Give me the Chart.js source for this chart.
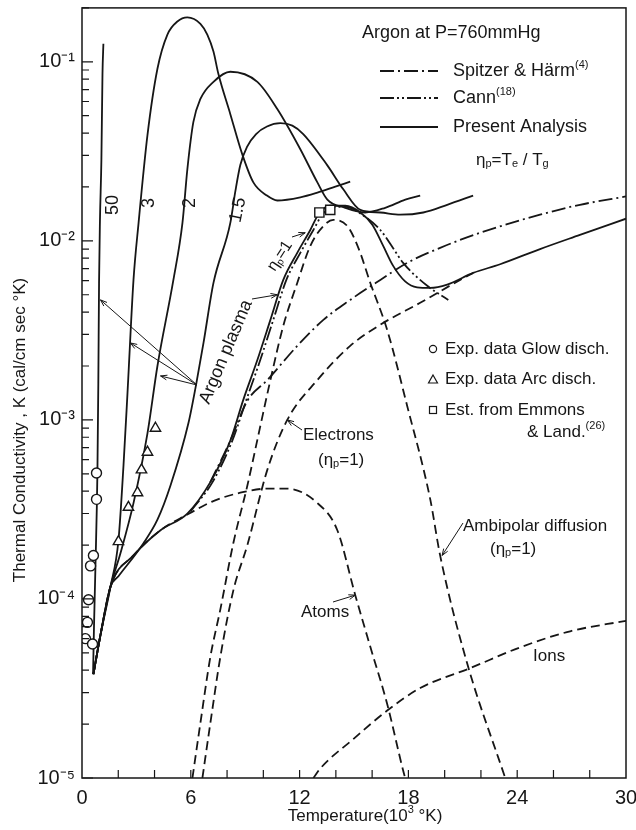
<!DOCTYPE html>
<html>
<head>
<meta charset="utf-8">
<script src="https://cdn.jsdelivr.net/npm/chart.js"></script>
<style>
  html, body { margin: 0; padding: 0; background: #fff; }
  canvas { display: block; }
</style>
</head>
<body>
<canvas id="chart" width="636" height="830"></canvas>
<script>
// axis ticks
const xTickValues = [0, 6, 12, 18, 24, 30];
const xTickLabels = ['0', '6', '12', '18', '24', '30'];
const yTickValues = [1e-5, 1e-4, 1e-3, 1e-2, 1e-1];
const yTickLabels = ['10⁻⁵', '10⁻⁴', '10⁻³', '10⁻²', '10⁻¹'];

// temperature in 10^3 K, conductivity in cal/cm sec K
// present analysis, eta_p = 50, 3, 2, 1.5, 1
const eta50T = [0.61, 0.66, 0.74, 0.85, 0.90, 0.94, 0.99, 1.07, 1.13, 1.18];
const eta50K = [3.8e-5, 6.9e-5, 1.5e-4, 5.1e-4, 1.6e-3, 5.8e-3, 1.3e-2, 2.85e-2, 8.6e-2, 0.126];

const eta3T = [0.63, 1.02, 1.57, 2.01, 2.29, 2.51, 2.84, 3.12, 3.61, 4.16, 4.71, 5.26, 5.81, 6.53, 6.91, 7.25, 7.52, 8.18, 8.84, 9.45, 10.2, 10.77, 12.04, 12.98, 13.97, 14.79];
const eta3K = [3.8e-5, 6.3e-5, 1.17e-4, 2.12e-4, 5.6e-4, 1.42e-3, 6.05e-3, 0.0126, 0.0389, 0.0914, 0.142, 0.168, 0.177, 0.163, 0.142, 0.114, 0.0857, 0.051, 0.0304, 0.0212, 0.0179, 0.0168, 0.0175, 0.0186, 0.0201, 0.0214];

const eta2T = [0.63, 1.02, 1.57, 2.12, 2.84, 3.61, 4.16, 5.04, 5.54, 5.81, 6.14, 6.53, 7.25, 8.18, 9.67, 10.77, 12.04, 12.98, 13.53, 14.52, 15.62, 16.72, 17.83, 18.65];
const eta2K = [3.8e-5, 6.3e-5, 1.17e-4, 1.8e-4, 3.43e-4, 8.4e-4, 2.0e-3, 6.05e-3, 0.0126, 0.0251, 0.046, 0.062, 0.0773, 0.088, 0.0773, 0.0545, 0.0325, 0.0212, 0.017, 0.0153, 0.0144, 0.0153, 0.017, 0.0179];

const eta15T = [0.63, 1.02, 1.57, 2.01, 3.39, 4.16, 4.88, 5.87, 6.31, 6.70, 7.25, 8.18, 8.46, 8.73, 9.1, 9.6, 10.2, 10.94, 11.6, 12.2, 13.53, 14.41, 15.35, 16.45, 17.55, 18.82, 20.14, 21.57];
const eta15K = [3.8e-5, 6.3e-5, 1.17e-4, 1.34e-4, 2.05e-4, 2.77e-4, 4.3e-4, 9.6e-4, 1.61e-3, 2.69e-3, 5.82e-3, 0.0126, 0.019, 0.0265, 0.0335, 0.0395, 0.0435, 0.0454, 0.0440, 0.0395, 0.0264, 0.0194, 0.0149, 0.0144, 0.014, 0.0144, 0.0159, 0.0179];

const eta1T = [0.63, 1.02, 1.57, 2.84, 4.33, 5.81, 7.07, 8.18, 8.89, 9.67, 10.39, 11.1, 11.87, 12.59, 13.03, 13.69, 14.52, 15.35, 16.01, 16.61, 17.16, 17.82, 18.48, 19.2, 20.14, 21.57, 23.06, 25.26, 27.46, 30];
const eta1K = [3.8e-5, 6.3e-5, 1.17e-4, 1.75e-4, 2.42e-4, 3.0e-4, 4.48e-4, 7.66e-4, 1.29e-3, 2.16e-3, 3.62e-3, 6.05e-3, 8.57e-3, 0.0115, 0.014, 0.0157, 0.0157, 0.0144, 0.0123, 9.37e-3, 7.25e-3, 5.94e-3, 5.5e-3, 5.46e-3, 5.7e-3, 6.62e-3, 7.4e-3, 9.0e-3, 0.0108, 0.0133];

// other theories, eta_p = 1
const cannT = [5.98, 7.19, 8.29, 9.06, 9.83, 10.55, 11.27, 12.04, 12.76, 13.25, 13.86, 14.52, 15.35, 16.45, 17.16, 17.71, 19.04, 20.2];
const cannK = [3.08e-4, 4.48e-4, 7.66e-4, 1.29e-3, 2.16e-3, 3.62e-3, 6.05e-3, 8.57e-3, 0.0115, 0.014, 0.0155, 0.0155, 0.0142, 0.0115, 9.1e-3, 7.53e-3, 5.61e-3, 4.68e-3];

const spitzerT = [7.07, 8.18, 9.12, 10.22, 11.87, 13.31, 14.79, 16.45, 17.93, 19.75, 21.96, 25.26, 27.46, 30];
const spitzerK = [4.48e-4, 7.66e-4, 1.28e-3, 1.67e-3, 2.59e-3, 3.62e-3, 4.68e-3, 6.05e-3, 7.53e-3, 9.14e-3, 0.0111, 0.014, 0.0159, 0.0177];

// components
const elecT = [6.64, 7.08, 7.63, 8.35, 9.12, 10.22, 11.32, 12.98, 14.79, 16.45, 18.65, 20.85, 21.57];
const elecK = [1.0e-5, 2.03e-5, 4.75e-5, 1.12e-4, 2.0e-4, 5.26e-4, 1.0e-3, 1.67e-3, 2.59e-3, 3.4e-3, 4.51e-3, 6.05e-3, 6.62e-3];

const ambT = [6.09, 6.53, 7.08, 7.63, 8.35, 9.12, 9.83, 10.39, 11.1, 11.87, 12.59, 13.31, 13.86, 14.63, 15.24, 15.9, 16.83, 17.93, 19.2, 19.75, 21.24, 23.34];
const ambK = [1.0e-5, 2.03e-5, 4.75e-5, 8.75e-5, 2.06e-4, 4.3e-4, 9.2e-4, 1.67e-3, 3.35e-3, 5.82e-3, 9.37e-3, 0.0121, 0.0131, 0.0121, 9.14e-3, 5.82e-3, 3.18e-3, 1.2e-3, 3.62e-4, 1.75e-4, 4.37e-5, 1.0e-5];

const atomT = [0.63, 1.02, 1.57, 2.84, 4.33, 5.81, 7.24, 8.73, 10.22, 11.32, 12.98, 14.08, 15.07, 15.9, 16.83, 17.71, 17.82];
const atomK = [3.8e-5, 6.3e-5, 1.17e-4, 1.75e-4, 2.42e-4, 2.96e-4, 3.52e-4, 3.92e-4, 4.13e-4, 4.13e-4, 3.43e-4, 2.42e-4, 1.05e-4, 5.4e-5, 2.59e-5, 1.1e-5, 1.0e-5];

const ionT = [12.76, 13.14, 14.96, 16.83, 18.65, 21.41, 24.17, 26.92, 30];
const ionK = [1.0e-5, 1.13e-5, 1.65e-5, 2.38e-5, 3.18e-5, 4.11e-5, 5.37e-5, 6.6e-5, 7.55e-5];

// experimental points
const glowT = [0.19, 0.30, 0.36, 0.47, 0.58, 0.63, 0.80, 0.80];
const glowK = [6.0e-5, 7.4e-5, 9.9e-5, 1.53e-4, 5.6e-5, 1.75e-4, 3.6e-4, 5.05e-4];
const arcT = [2.01, 2.56, 3.06, 3.28, 3.61, 4.05];
const arcK = [2.09e-4, 3.25e-4, 3.92e-4, 5.26e-4, 6.6e-4, 8.98e-4];
const emmonsT = [13.09, 13.69];
const emmonsK = [0.0144, 0.0149];

const INK = '#161616';
const FONT = "'Liberation Sans', Arial, sans-serif";
const DASH = [9, 5];
const SPITZER_DASH = [14, 4, 2, 4];
const CANN_DASH = [14, 3, 2, 3, 2, 3];

const pts = (T, K) => T.map((t, i) => ({ x: t, y: K[i] }));

function curve(T, K, dash) {
    return {
        data: pts(T, K),
        showLine: true,
        borderColor: INK,
        borderWidth: 1.8,
        borderDash: dash || [],
        pointRadius: 0,
        cubicInterpolationMode: 'monotone',
        order: 2
    };
}

function marks(T, K, style, r) {
    return {
        data: pts(T, K),
        showLine: false,
        pointStyle: style,
        pointRadius: r,
        backgroundColor: '#fff',
        borderColor: INK,
        borderWidth: 1.4,
        order: 0
    };
}

// text with sub/superscript pieces: [[text, 'n'|'sup'|'sub'], ...]
function tx(ctx, parts, x, y, size, align) {
    ctx.textBaseline = 'middle';
    ctx.textAlign = 'left';
    const fontFor = k => `${k === 'n' ? size : Math.round(size * 0.62)}px ${FONT}`;
    let w = 0;
    for (const [t, k] of parts) { ctx.font = fontFor(k); w += ctx.measureText(t).width; }
    let cx = align === 'center' ? x - w / 2 : x;
    for (const [t, k] of parts) {
        ctx.font = fontFor(k);
        const dy = k === 'sup' ? -size * 0.35 : k === 'sub' ? size * 0.25 : 0;
        ctx.fillText(t, cx, y + dy);
        cx += ctx.measureText(t).width;
    }
}

function rot(ctx, parts, x, y, size, deg) {
    ctx.save();
    ctx.translate(x, y);
    ctx.rotate(deg * Math.PI / 180);
    tx(ctx, parts, 0, 0, size, 'center');
    ctx.restore();
}

function arrow(ctx, x1, y1, x2, y2) {
    ctx.beginPath();
    ctx.moveTo(x1, y1);
    ctx.lineTo(x2, y2);
    ctx.stroke();
    const a = Math.atan2(y2 - y1, x2 - x1), h = 7;
    ctx.beginPath();
    ctx.moveTo(x2 - h * Math.cos(a - 0.35), y2 - h * Math.sin(a - 0.35));
    ctx.lineTo(x2, y2);
    ctx.lineTo(x2 - h * Math.cos(a + 0.35), y2 - h * Math.sin(a + 0.35));
    ctx.stroke();
}

// box and inward tick marks
const frame = {
    id: 'frame',
    afterDraw(chart) {
        const { ctx, chartArea: a, scales: { x, y } } = chart;
        ctx.save();
        ctx.strokeStyle = INK;
        ctx.lineWidth = 1.5;
        ctx.strokeRect(a.left, a.top, a.right - a.left, a.bottom - a.top);
        ctx.lineWidth = 1.2;
        ctx.beginPath();
        for (let e = -5; e <= -1; e++) {
            for (let m = 1; m <= 9; m++) {
                const v = m * Math.pow(10, e);
                if (v > y.max) break;
                const py = y.getPixelForValue(v);
                ctx.moveTo(a.left, py);
                ctx.lineTo(a.left + (m === 1 ? 11 : 7), py);
            }
        }
        for (let t = 2; t < 30; t += 2) {
            const px = x.getPixelForValue(t);
            ctx.moveTo(px, a.bottom);
            ctx.lineTo(px, a.bottom - 8);
        }
        ctx.stroke();

        // axis titles
        ctx.fillStyle = INK;
        tx(ctx, [['Temperature(10', 'n'], ['3', 'sup'], [' °K)', 'n']], 365, 816, 17, 'center');
        rot(ctx, [['Thermal Conductivity , K (cal/cm sec °K)', 'n']], 20, 430, 17, -90);
        ctx.restore();
    }
};

// legend and curve labels
const notes = {
    id: 'notes',
    afterDatasetsDraw(chart) {
        const { ctx, scales: { x, y } } = chart;
        const P = (t, k) => [x.getPixelForValue(t), y.getPixelForValue(k)];
        ctx.save();
        ctx.fillStyle = INK;
        ctx.strokeStyle = INK;

        tx(ctx, [['Argon at P=760mmHg', 'n']], 362, 33, 18);
        const rows = [
            [SPITZER_DASH, [['Spitzer & Härm', 'n'], ['(4)', 'sup']], 71],
            [CANN_DASH, [['Cann', 'n'], ['(18)', 'sup']], 98],
            [[], [['Present Analysis', 'n']], 127]
        ];
        for (const [dash, parts, yy] of rows) {
            ctx.lineWidth = 1.8;
            ctx.setLineDash(dash);
            ctx.beginPath();
            ctx.moveTo(380, yy);
            ctx.lineTo(438, yy);
            ctx.stroke();
            ctx.setLineDash([]);
            tx(ctx, parts, 453, yy, 18);
        }
        tx(ctx, [['η', 'n'], ['p', 'sub'], ['=T', 'n'], ['e', 'sub'], [' / T', 'n'], ['g', 'sub']], 476, 160, 17);

        // marker legend
        ctx.lineWidth = 1.2;
        ctx.beginPath(); ctx.arc(433, 349, 3.6, 0, Math.PI * 2); ctx.stroke();
        ctx.beginPath(); ctx.moveTo(433, 375); ctx.lineTo(437.5, 383); ctx.lineTo(428.5, 383); ctx.closePath(); ctx.stroke();
        ctx.strokeRect(429.5, 406.5, 7, 7);
        tx(ctx, [['Exp. data Glow disch.', 'n']], 445, 349, 17);
        tx(ctx, [['Exp. data Arc disch.', 'n']], 445, 379, 17);
        tx(ctx, [['Est. from Emmons', 'n']], 445, 410, 17);
        tx(ctx, [['& Land.', 'n'], ['(26)', 'sup']], 527, 432, 17);

        // curve labels
        rot(ctx, [['50', 'n']], 113, 205, 18, -90);
        rot(ctx, [['3', 'n']], 149, 203, 18, -90);
        rot(ctx, [['2', 'n']], 190, 203, 18, -90);
        rot(ctx, [['1.5', 'n']], 238, 210, 18, -78);
        rot(ctx, [['Argon plasma', 'n']], 226, 352, 18, -67);
        rot(ctx, [['η', 'n'], ['p', 'sub'], ['=1', 'n']], 280, 256, 16, -57);

        tx(ctx, [['Electrons', 'n']], 303, 435, 17);
        tx(ctx, [['(η', 'n'], ['p', 'sub'], ['=1)', 'n']], 318, 460, 17);
        tx(ctx, [['Ambipolar diffusion', 'n']], 463, 526, 17);
        tx(ctx, [['(η', 'n'], ['p', 'sub'], ['=1)', 'n']], 490, 549, 17);
        tx(ctx, [['Atoms', 'n']], 301, 612, 17);
        tx(ctx, [['Ions', 'n']], 533, 656, 17);

        // leader lines
        ctx.lineWidth = 1;
        arrow(ctx, 197, 385, ...P(1.02, 4.68e-3));
        arrow(ctx, 197, 385, ...P(2.67, 2.69e-3));
        arrow(ctx, 197, 385, ...P(4.33, 1.76e-3));
        arrow(ctx, 252, 299, ...P(10.77, 5.0e-3));
        arrow(ctx, 292, 237, ...P(12.31, 0.0111));
        arrow(ctx, 302, 430, ...P(11.32, 1.0e-3));
        arrow(ctx, 463, 523, ...P(19.86, 1.75e-4));
        arrow(ctx, 333, 602, ...P(15.07, 1.05e-4));
        ctx.restore();
    }
};

new Chart(document.getElementById('chart').getContext('2d'), {
    type: 'scatter',
    data: {
        datasets: [
            curve(eta50T, eta50K),
            curve(eta3T, eta3K),
            curve(eta2T, eta2K),
            curve(eta15T, eta15K),
            curve(eta1T, eta1K),
            curve(cannT, cannK, CANN_DASH),
            curve(spitzerT, spitzerK, SPITZER_DASH),
            curve(elecT, elecK, DASH),
            curve(ambT, ambK, DASH),
            curve(atomT, atomK, DASH),
            curve(ionT, ionK, DASH),
            marks(glowT, glowK, 'circle', 5),
            marks(arcT, arcK, 'triangle', 6),
            marks(emmonsT, emmonsK, 'rect', 6.5)
        ]
    },
    options: {
        responsive: false,
        animation: false,
        devicePixelRatio: 1,
        events: [],
        layout: { padding: { top: 6, right: 10, left: 0, bottom: 0 } },
        plugins: { legend: { display: false }, tooltip: { enabled: false } },
        scales: {
            x: {
                type: 'linear',
                min: 0,
                max: 30,
                afterBuildTicks: s => { s.ticks = xTickValues.map(v => ({ value: v })); },
                afterFit: s => { s.height = 52; s.paddingLeft = 0; s.paddingRight = 0; },
                ticks: {
                    callback: (v, i) => xTickLabels[i],
                    font: { family: FONT, size: 20 },
                    color: INK,
                    padding: 8,
                    maxRotation: 0,
                    autoSkip: false
                },
                grid: { display: false, drawTicks: false },
                border: { display: false }
            },
            y: {
                type: 'logarithmic',
                min: 1e-5,
                max: 0.2,
                afterBuildTicks: s => { s.ticks = yTickValues.map(v => ({ value: v })); },
                afterFit: s => { s.width = 82; s.paddingTop = 0; s.paddingBottom = 0; },
                ticks: {
                    callback: (v, i) => yTickLabels[i],
                    font: { family: FONT, size: 20 },
                    color: INK,
                    padding: 7,
                    autoSkip: false
                },
                grid: { display: false, drawTicks: false },
                border: { display: false }
            }
        }
    },
    plugins: [notes, frame]
});
</script>
</body>
</html>
